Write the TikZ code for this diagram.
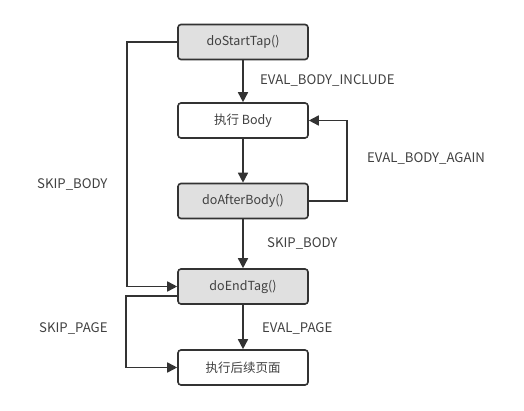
\documentclass[tikz,border=0pt]{standalone}
\usepackage{fontspec}
\setmainfont{Noto Sans CJK SC}
\usetikzlibrary{arrows.meta}
\definecolor{linegray}{HTML}{333333}
\definecolor{boxgray}{HTML}{E0E0E0}
\definecolor{textgray}{HTML}{404040}
\tikzset{
  box/.style={draw=linegray, line width=1.6pt, rounded corners=3pt, fill=white,
    minimum width=130pt, minimum height=35pt, inner sep=0pt, text=textgray,
    font=\fontsize{12.5}{14}\selectfont},
  call/.style={box, fill=boxgray},
  flow/.style={draw=linegray, line width=1.6pt, -{Triangle[length=10pt,width=10pt]}},
  lbl/.style={anchor=west, inner sep=0pt, text=textgray, font=\fontsize{13.2}{15}\selectfont}
}
\begin{document}
\begin{tikzpicture}[x=1pt, y=-1pt]
  \useasboundingbox (0,0) rectangle (524,411);
  % the boxes
  \node[call] (start) at (243,42) {doStartTap()};
  \node[box] (body) at (243,120.5) {执行 Body};
  \node[call] (after) at (243,201) {doAfterBody()};
  \node[call] (end) at (243,286.5) {doEndTag()};
  \node[box] (next) at (243,367.5) {执行后续页面};
  % straight down
  \draw[flow] (start) -- (body);
  \draw[flow] (body) -- (after);
  \draw[flow] (after) -- (end);
  \draw[flow] (end) -- (next);
  % round the sides
  \draw[flow] (start.west) -- ++(-50,0) |- (end.west);
  \draw[flow] (after.east) -- ++(38,0) |- (body.east);
  \draw[flow] ([yshift=-9.5pt]end.west) -- ++(-51,0) |- (next.west);
  % labels
  \node[lbl] (l1) at (260,81) {EVAL\_BODY\_INCLUDE};
  \node[lbl] (l2) at (367,159) {EVAL\_BODY\_AGAIN};
  \node[lbl] (l3) at (37,185) {SKIP\_BODY};
  \node[lbl] (l4) at (267,244) {SKIP\_BODY};
  \node[lbl] (l5) at (39,328) {SKIP\_PAGE};
  \node[lbl] (l6) at (262,328) {EVAL\_PAGE};
\end{tikzpicture}
\end{document}
